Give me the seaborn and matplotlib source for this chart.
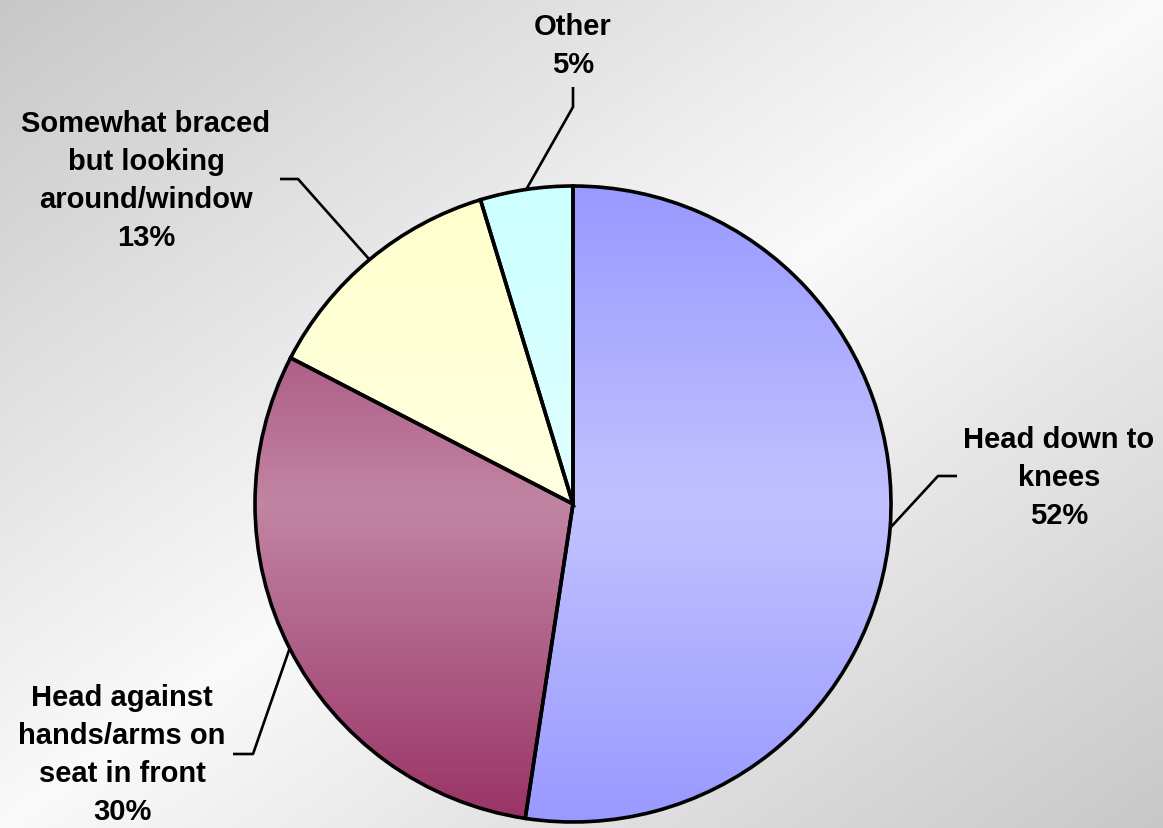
import numpy as np
import matplotlib
matplotlib.use("Agg")
import matplotlib.pyplot as plt
import seaborn as sns
from matplotlib.colors import LinearSegmentedColormap, to_rgb

# ---- data ----
categories = ["Head down to\nknees", "Head against\nhands/arms on\nseat in front",
              "Somewhat braced\nbut looking\naround/window", "Other"]
shares = [52.4, 30.2, 12.7, 4.7]
base_colors = ["#9999FF", "#993366", "#FFFFCC", "#CCFFFF"]

sns.set_theme(style="white")
plt.rcParams["font.family"] = ["Liberation Sans", "DejaVu Sans"]

W, H = 1163, 829
fig = plt.figure(figsize=(W / 100, H / 100), dpi=100)
ax = fig.add_axes([0, 0, 1, 1])

# background: diagonal gray-white-gray gradient
xx, yy = np.meshgrid(np.linspace(0, 1, 300), np.linspace(0, 1, 220))
s = xx + yy  # yy=0 is top row (origin upper)
v = 1 - np.abs(s - 1)
grey = (200 + 50 * v) / 255.0
bg = np.dstack([grey, grey, grey])
ax.imshow(bg, extent=(0, W, 0, H), origin="upper", zorder=0, aspect="auto", interpolation="bilinear")

cx, cy, r = 573, 829 - 505, 318

wedges, _ = ax.pie(shares, colors=base_colors, startangle=90, counterclock=False,
                   center=(cx, cy), radius=r, frame=True,
                   wedgeprops=dict(linewidth=0, zorder=1))

# vertical "center" gradient in each wedge
grad_y = np.linspace(-1, 1, 400)
t = np.abs(grad_y)[:, None] * np.ones((1, 2))
for w, col in zip(wedges, base_colors):
    dark = np.array(to_rgb(col))
    light = dark + 0.4 * (1 - dark)
    cmap = LinearSegmentedColormap.from_list("g", [light, dark])
    im = ax.imshow(t, cmap=cmap, vmin=0, vmax=1, extent=(cx - r, cx + r, cy - r, cy + r),
                   origin="lower", aspect="auto", zorder=2, interpolation="bilinear")
    im.set_clip_path(w)

# outlines on top
ax.pie(shares, colors=["none"] * 4, startangle=90, counterclock=False,
       center=(cx, cy), radius=r, frame=True,
       wedgeprops=dict(linewidth=2.6, edgecolor="black", zorder=3, fill=False))

# labels and leader lines
label_pos = [(1059, 829 - 478), (122, 829 - 755), (146, 829 - 181), (573, 829 - 46)]
elbows = [[(938, 477), (957, 477)], [(253, 755), (233, 755)],
          [(298, 180), (280, 180)], [(573, 108), (573, 88)]]
cum = np.cumsum([0] + shares)
for i, (cat, val) in enumerate(zip(categories, shares)):
    mid = 90 - (cum[i] + val / 2) / 100 * 360
    px = cx + r * np.cos(np.radians(mid))
    py = cy + r * np.sin(np.radians(mid))
    xs = [px] + [e[0] for e in elbows[i]]
    ys = [py] + [829 - e[1] for e in elbows[i]]
    ax.plot(xs, ys, color="black", lw=1.9, zorder=4, solid_capstyle="butt")
    ax.text(label_pos[i][0], label_pos[i][1], f"{cat}\n{val:.0f}%", ha="center", va="center",
            multialignment="center", fontsize=21, fontweight="bold", color="black",
            linespacing=1.45, zorder=5)

ax.set_xlim(0, W)
ax.set_ylim(0, H)
ax.set_aspect("auto")
ax.axis("off")

fig.savefig("out.png", dpi=100)
